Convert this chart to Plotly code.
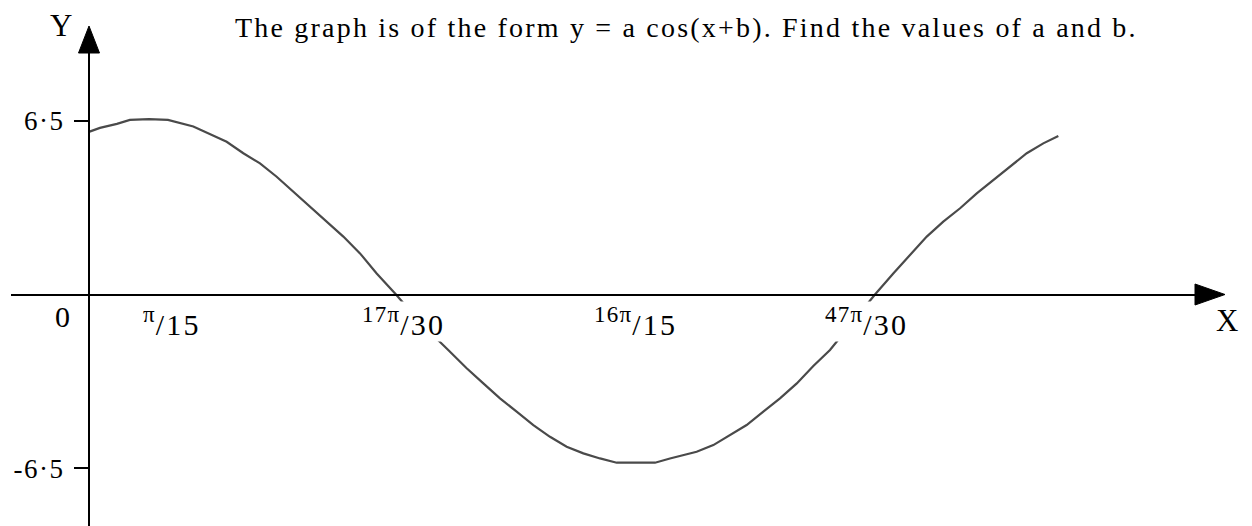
import plotly.graph_objects as go

# curve (x in radians, y value)
curve_x = [-0.353, -0.278, -0.163, -0.075, 0.054, 0.183, 0.355, 0.581, 0.694, 0.807,
           0.920, 1.033, 1.146, 1.259, 1.372, 1.485, 1.598, 1.729, 1.892, 2.083,
           2.208, 2.321, 2.434, 2.547, 2.660, 2.773, 2.886, 2.999, 3.112, 3.225,
           3.383, 3.485, 3.586, 3.767, 3.880, 3.993, 4.106, 4.219, 4.332, 4.446,
           4.558, 4.671, 4.820, 4.976, 5.100, 5.214, 5.327, 5.439, 5.553, 5.666,
           5.778, 5.892, 6.005, 6.117, 6.219]
curve_y = [6.09, 6.24, 6.39, 6.54, 6.57, 6.54, 6.29, 5.72, 5.29, 4.91,
           4.41, 3.85, 3.29, 2.73, 2.17, 1.54, 0.79, 0.00, -1.05, -2.08,
           -2.76, -3.33, -3.89, -4.39, -4.89, -5.33, -5.70, -5.95, -6.14, -6.30,
           -6.30, -6.30, -6.14, -5.89, -5.64, -5.26, -4.89, -4.39, -3.89, -3.33,
           -2.68, -2.08, -1.07, 0.00, 0.79, 1.48, 2.17, 2.73, 3.23, 3.79,
           4.29, 4.79, 5.29, 5.66, 5.94]

x_tick_vals = [3.14159 / 15, 17 * 3.14159 / 30, 16 * 3.14159 / 15, 47 * 3.14159 / 30]
x_tick_num = ["π", "17π", "16π", "47π"]
x_tick_den = ["/15", "/30", "/15", "/30"]
y_tick_vals = [6.5, -6.5]
y_tick_text = ["6·5", "-6·5"]

title = "The graph is of the form y = a cos(x+b). Find the values of a and b."

W, H = 1252, 526
OFF = 8  # page body margin
ML, MR, MT, MB = 11 - OFF, 63, 53 - OFF, 0
FONT = "Liberation Serif, Times New Roman, serif"


def to_paper(x, y):
    # pixel position in the window -> paper coordinates
    x, y = x - OFF, y - OFF
    return (x - ML) / (W - ML - MR), (H - MB - y) / (H - MT - MB)


def spaced(txt, sp, size=None):
    st = "letter-spacing:{}px".format(sp)
    if size:
        st += ";font-size:{}px".format(size)
    return '<span style="{}">{}</span>'.format(st, txt)


fig = go.Figure()
fig.add_trace(go.Scatter(x=curve_x, y=curve_y, mode="lines",
                         line=dict(color="#4a4a4a", width=2.2),
                         hoverinfo="skip", showlegend=False))

# x axis labels with white boxes (they hide the curve underneath)
for v, n, d in zip(x_tick_vals, x_tick_num, x_tick_den):
    txt = "<sup>" + spaced(n, 1.2, 23) + "</sup>" + spaced(d, 2.2)
    fig.add_annotation(x=v, y=0, xref="x", yref="y", text=txt, showarrow=False,
                       xanchor="center", yanchor="top", yshift=-6,
                       bgcolor="white", borderpad=0,
                       font=dict(family=FONT, size=30, color="black"))

ax_x, ax_y = to_paper(89, 294.5)

# arrow heads
ya = [to_paper(89, 26), to_paper(78.5, 53), to_paper(99.5, 53)]
xa = [to_paper(1225, 294.5), to_paper(1195, 284), to_paper(1195, 305)]
for tri in (ya, xa):
    path = "M {} {} L {} {} L {} {} Z".format(*[c for p in tri for c in p])
    fig.add_shape(type="path", path=path, xref="paper", yref="paper",
                  fillcolor="black", line=dict(color="black", width=1))

for txt, (px, py), size in [("Y", (61, 25), 31), ("X", (1227, 320), 31), ("0", (62, 316), 30)]:
    x, y = to_paper(px, py)
    fig.add_annotation(x=x, y=y, xref="paper", yref="paper", text=txt, showarrow=False,
                       xanchor="center", yanchor="middle",
                       font=dict(family=FONT, size=size, color="black"))

tx, ty = to_paper(233, 27)
fig.add_annotation(x=tx, y=ty, xref="paper", yref="paper", text=spaced(title, 2.2),
                   showarrow=False, xanchor="left", yanchor="middle",
                   font=dict(family=FONT, size=28, color="black"))

y_bottom = (294.5 - (H + OFF)) / 26.7
fig.update_layout(
    width=W, height=H,
    margin=dict(l=ML, r=MR, t=MT, b=MB),
    paper_bgcolor="white", plot_bgcolor="white",
    font=dict(family=FONT, color="black"),
    xaxis=dict(range=[-0.881, 7.159], anchor="free", position=ax_y,
               showline=True, linecolor="black", linewidth=2,
               showgrid=False, zeroline=False, ticks="", showticklabels=False,
               tickvals=x_tick_vals),
    yaxis=dict(range=[y_bottom, 9.045], anchor="free", position=ax_x,
               showline=True, linecolor="black", linewidth=2,
               showgrid=False, zeroline=False,
               ticks="outside", ticklen=14, tickwidth=2, tickcolor="black",
               ticklabelstandoff=4,
               tickvals=y_tick_vals, ticktext=[spaced(t, 1.5) for t in y_tick_text],
               tickfont=dict(family=FONT, size=27, color="black")),
)

fig.write_html("out.html")
